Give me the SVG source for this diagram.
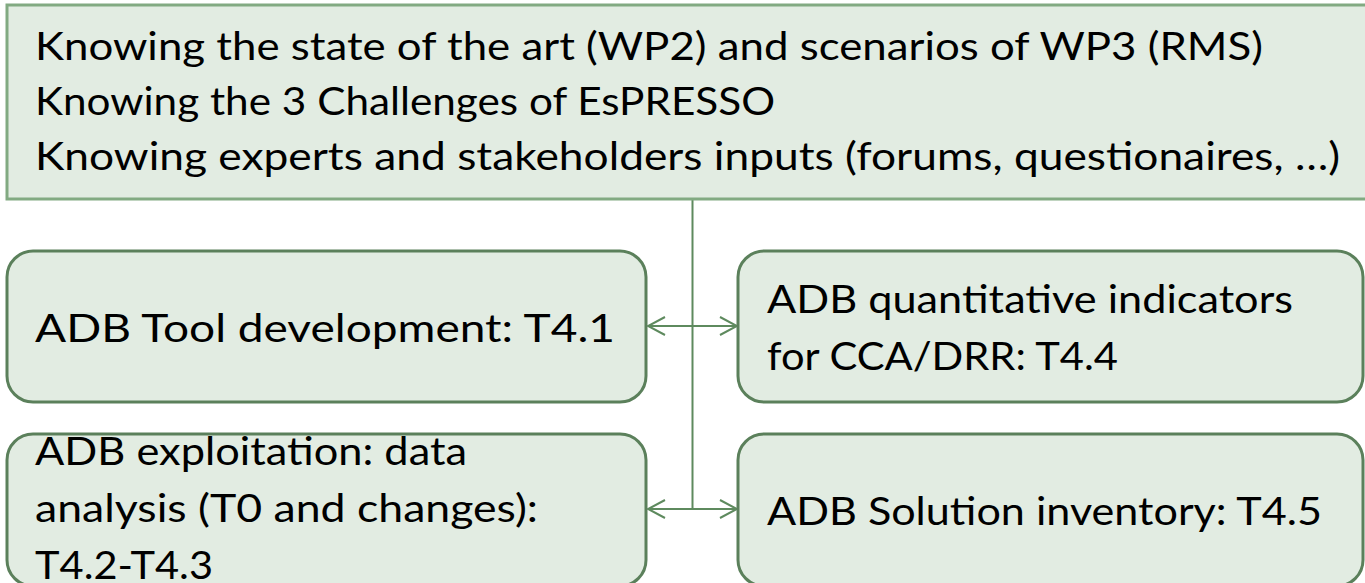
<svg xmlns="http://www.w3.org/2000/svg" width="1365" height="583" viewBox="0 0 1365 583">
<defs>
<style>
.t{font-family:Lato,"Open Sans","Liberation Sans",sans-serif;font-size:39px;fill:#000}
.box{fill:#e2ece2;stroke:#5b805b;stroke-width:3}
.top{fill:#e2ece2;stroke:#82aa82;stroke-width:3}
.con{fill:none;stroke:#5e8a5e;stroke-width:2}
</style>
<marker id="ah" viewBox="0 0 20 20" refX="18" refY="10" markerWidth="20" markerHeight="20" markerUnits="userSpaceOnUse" orient="auto-start-reverse">
<path d="M1,1 L18,10 L1,19" fill="none" stroke="#5e8a5e" stroke-width="2"/>
</marker>
</defs>
<rect width="1365" height="583" fill="#fff"/>
<g id="connectors">
<line class="con" x1="692.5" y1="199" x2="692.5" y2="509"/>
<line class="con" x1="648" y1="326" x2="737" y2="326" marker-start="url(#ah)" marker-end="url(#ah)"/>
<line class="con" x1="648" y1="509" x2="737" y2="509" marker-start="url(#ah)" marker-end="url(#ah)"/>
</g>
<g id="context">
<rect class="top" x="7" y="5" width="1375" height="194"/>
<text class="t" x="35" y="60" textLength="1228" lengthAdjust="spacingAndGlyphs">Knowing the state of the art (WP2) and scenarios of WP3 (RMS)</text>
<text class="t" x="35" y="115" textLength="740" lengthAdjust="spacingAndGlyphs">Knowing the 3 Challenges of EsPRESSO</text>
<text class="t" x="35" y="170" textLength="1305" lengthAdjust="spacingAndGlyphs">Knowing experts and stakeholders inputs (forums, questionaires, …)</text>
</g>
<g id="t41">
<rect class="box" x="7" y="251" width="639" height="151" rx="26" ry="26"/>
<text class="t" x="35" y="342" textLength="580" lengthAdjust="spacingAndGlyphs">ADB Tool development: T4.1</text>
</g>
<g id="t44">
<rect class="box" x="738" y="251" width="625" height="151" rx="26" ry="26"/>
<text class="t" x="767" y="313" textLength="526" lengthAdjust="spacingAndGlyphs">ADB quantitative indicators</text>
<text class="t" x="767" y="370" textLength="351" lengthAdjust="spacingAndGlyphs">for CCA/DRR: T4.4</text>
</g>
<g id="t42">
<rect class="box" x="7" y="434" width="639" height="152" rx="26" ry="26"/>
<text class="t" x="35" y="465" textLength="432" lengthAdjust="spacingAndGlyphs">ADB exploitation: data</text>
<text class="t" x="35" y="522" textLength="503" lengthAdjust="spacingAndGlyphs">analysis (T0 and changes):</text>
<text class="t" x="35" y="579" textLength="178" lengthAdjust="spacingAndGlyphs">T4.2-T4.3</text>
</g>
<g id="t45">
<rect class="box" x="738" y="434" width="625" height="152" rx="26" ry="26"/>
<text class="t" x="767" y="525" textLength="555" lengthAdjust="spacingAndGlyphs">ADB Solution inventory: T4.5</text>
</g>
</svg>
